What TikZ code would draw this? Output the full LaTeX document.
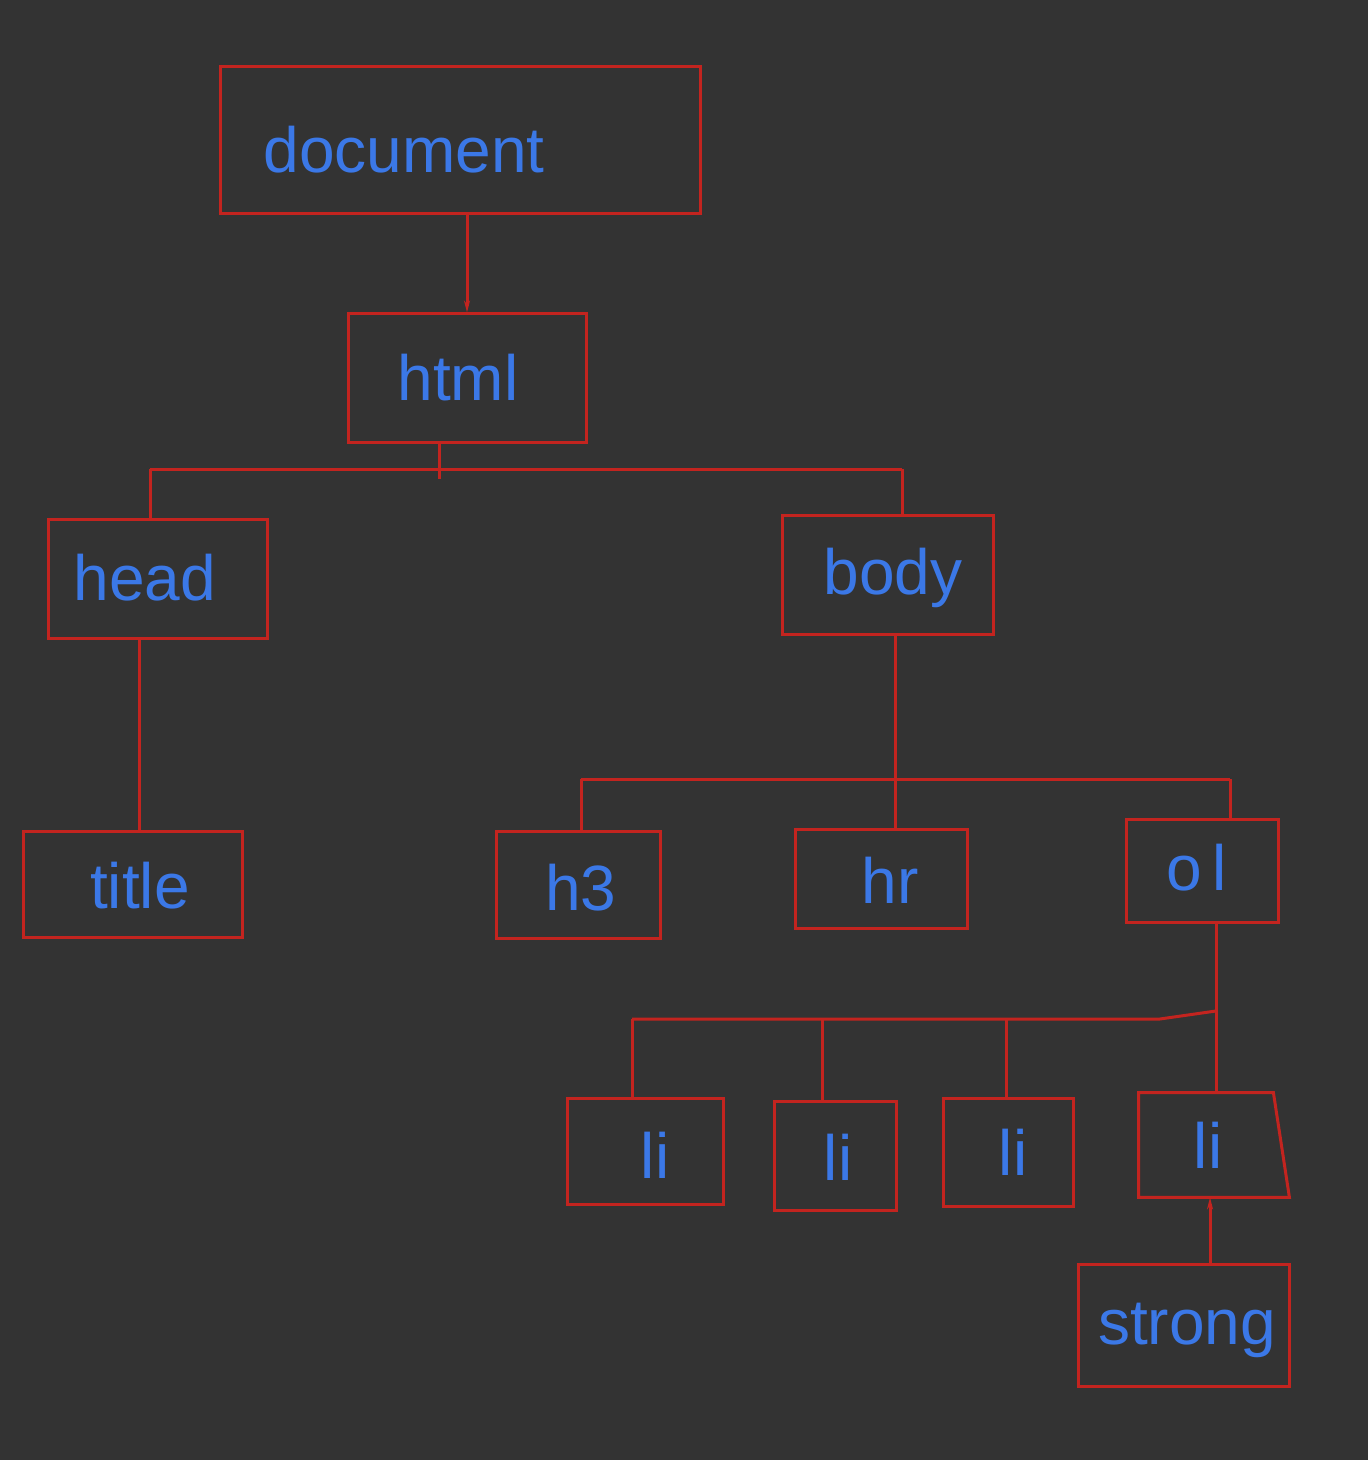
\documentclass[tikz,border=0pt]{standalone}
\usepackage{fontspec}
\setmainfont{Liberation Sans}
\usetikzlibrary{arrows.meta}
\definecolor{bg}{HTML}{333333}
\definecolor{rd}{HTML}{C3241F}
\definecolor{bl}{HTML}{3B78E7}
\tikzset{
  box/.style={draw=rd, line width=1.5pt, rectangle, inner sep=0pt},
  ghost/.style={rectangle, inner sep=0pt},
  conn/.style={draw=rd, line width=1.5pt},
  tip/.style={-{Stealth[length=6pt,width=3pt]}},
  lbl/.style={text=bl, font=\fontsize{32}{36}\selectfont, inner sep=0pt}
}
\begin{document}
\begin{tikzpicture}[x=0.5pt,y=-0.5pt]
\fill[bg] (0,0) rectangle (1368,1460);
\useasboundingbox (0,0) rectangle (1368,1460);
% boxes
\node[box, minimum width=240pt, minimum height=73.5pt] (doc) at (460,140.5) {};
\node[box, minimum width=119pt, minimum height=64pt] (html) at (467,378) {};
\node[box, minimum width=109.5pt, minimum height=59.5pt] (head) at (157.5,578.5) {};
\node[box, minimum width=105.5pt, minimum height=59.5pt] (body) at (887.5,574.5) {};
\node[box, minimum width=109.5pt, minimum height=53pt] (title) at (132.5,884) {};
\node[box, minimum width=82pt, minimum height=53.5pt] (h3) at (578,884.5) {};
\node[box, minimum width=86pt, minimum height=49.5pt] (hr) at (881,878.5) {};
\node[box, minimum width=76pt, minimum height=51.5pt] (ol) at (1202,870.5) {};
\node[box, minimum width=78pt, minimum height=53pt] (li1) at (645,1151) {};
\node[box, minimum width=61pt, minimum height=54.5pt] (li2) at (835,1155.5) {};
\node[box, minimum width=65pt, minimum height=54pt] (li3) at (1008,1152) {};
\node[ghost, minimum width=67pt, minimum height=52pt] (li4) at (1206,1145) {};
\draw[conn] (li4.south west) -- (li4.north west) -- (li4.north east) -- ([xshift=8pt]li4.south east) -- cycle;
\node[box, minimum width=105.5pt, minimum height=61pt] (strong) at (1183.5,1325) {};
% labels
\node[lbl] (docT) at (404,150) {document};
\node[lbl] (htmlT) at (458,378) {html};
\node[lbl] (headT) at (145,578) {head};
\node[lbl] (bodyT) at (893,578) {body};
\node[lbl] (titleT) at (140,886) {title};
\node[lbl] (h3T) at (581,888) {h3};
\node[lbl] (hrT) at (890,880) {hr};
\node[lbl] (olT) at (1197,868) {o\,l};
\node[lbl] (li1T) at (655,1155) {li};
\node[lbl] (li2T) at (838,1157) {li};
\node[lbl] (li3T) at (1013,1152) {li};
\node[lbl] (li4T) at (1208,1145) {li};
\node[lbl] (strongT) at (1187,1330) {strong};
% connectors
\draw[conn, tip] (doc.south -| html.north) -- (html.north);
\coordinate (hbL) at (150,469);
\coordinate (hbM) at (439,469);
\coordinate (hbR) at (902,469);
\draw[conn] (html.south -| hbM) -- ([yshift=-5pt]hbM);
\draw[conn] (hbL) -- (hbR);
\draw[conn] (hbL) -- (hbL |- head.north);
\draw[conn] (hbR) -- (hbR |- body.north);
\coordinate (tl) at (139,0);
\draw[conn] (head.south -| tl) -- (tl |- title.north);
\coordinate (bbL) at (581,779);
\coordinate (bbM) at (895,779);
\coordinate (bbR) at (1230,779);
\draw[conn] (body.south -| bbM) -- (bbM);
\draw[conn] (bbL) -- (bbR);
\draw[conn] (bbL) -- (bbL |- h3.north);
\draw[conn] (bbM) -- (bbM |- hr.north);
\draw[conn] (bbR) -- (bbR |- ol.north);
\coordinate (obR) at (1216,1011);
\coordinate (obK) at (1160,1019);
\coordinate (ob1) at (632,1019);
\coordinate (ob2) at (822,1019);
\coordinate (ob3) at (1006,1019);
\draw[conn] (ol.south -| obR) -- (obR |- li4.north);
\draw[conn] (ob1) -- (obK) -- (obR);
\draw[conn] (ob1) -- (ob1 |- li1.north);
\draw[conn] (ob2) -- (ob2 |- li2.north);
\draw[conn] (ob3) -- (ob3 |- li3.north);
\coordinate (st) at (1210,0);
\draw[conn, tip] (strong.north -| st) -- (li4.south -| st);
\end{tikzpicture}
\end{document}
